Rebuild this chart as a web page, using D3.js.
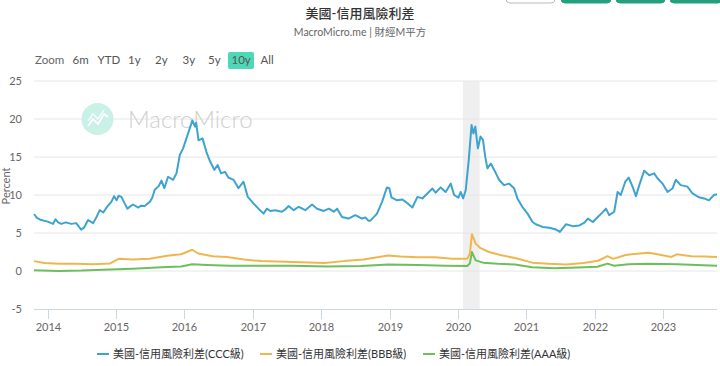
<!DOCTYPE html>
<html>
<head>
<meta charset="utf-8">
<script src="https://cdn.jsdelivr.net/npm/d3@7"></script>
<style>
  body { margin: 0; background: #fff; }
  svg { display: block; font-family: Lato, "Noto Sans CJK TC", sans-serif; }
</style>
</head>
<body>
<div id="chart"></div>
<script>
// chart data
const cccDates = ["2013-10-20","2013-11-05","2013-11-27","2014-01-01","2014-01-30","2014-02-12","2014-02-26","2014-03-15","2014-04-08","2014-05-07","2014-06-02","2014-06-29","2014-07-14","2014-08-05","2014-09-01","2014-09-17","2014-10-06","2014-10-25","2014-11-13","2014-12-07","2014-12-22","2015-01-04","2015-01-15","2015-01-30","2015-02-14","2015-03-03","2015-03-18","2015-04-02","2015-04-30","2015-05-15","2015-06-03","2015-07-01","2015-07-13","2015-07-27","2015-08-18","2015-09-01","2015-09-16","2015-10-06","2015-11-02","2015-11-20","2015-12-08","2015-12-25","2016-01-21","2016-02-13","2016-02-27","2016-03-04","2016-03-17","2016-04-07","2016-04-30","2016-05-18","2016-06-09","2016-06-27","2016-07-15","2016-08-05","2016-08-23","2016-09-20","2016-10-16","2016-11-12","2016-12-05","2017-01-04","2017-01-31","2017-02-27","2017-03-17","2017-04-04","2017-04-30","2017-06-05","2017-06-23","2017-07-11","2017-08-07","2017-09-03","2017-10-08","2017-11-13","2017-12-10","2018-01-15","2018-02-11","2018-03-09","2018-03-27","2018-04-22","2018-05-27","2018-07-02","2018-08-07","2018-08-25","2018-09-11","2018-09-20","2018-10-26","2018-11-22","2018-12-18","2018-12-31","2019-01-11","2019-02-10","2019-03-11","2019-03-28","2019-05-03","2019-05-30","2019-06-25","2019-07-22","2019-08-18","2019-09-04","2019-10-01","2019-10-28","2019-11-24","2019-12-12","2020-01-04","2020-01-16","2020-01-29","2020-02-12","2020-02-28","2020-03-14","2020-03-24","2020-04-03","2020-04-17","2020-05-01","2020-05-14","2020-05-26","2020-06-07","2020-06-25","2020-07-13","2020-08-08","2020-09-03","2020-09-30","2020-10-27","2020-11-14","2020-12-10","2021-01-07","2021-02-03","2021-02-20","2021-03-28","2021-05-03","2021-06-08","2021-06-29","2021-07-31","2021-09-06","2021-10-11","2021-11-07","2021-11-25","2021-12-22","2022-01-17","2022-02-09","2022-03-02","2022-03-19","2022-04-15","2022-05-03","2022-05-20","2022-06-13","2022-07-01","2022-07-22","2022-08-09","2022-08-27","2022-09-22","2022-10-19","2022-11-14","2022-12-02","2022-12-29","2023-01-25","2023-02-20","2023-03-10","2023-04-05","2023-05-11","2023-06-07","2023-07-12","2023-08-08","2023-09-03","2023-09-30","2023-10-16"];
const cccValues = [7.5,7.0,6.7,6.5,6.2,6.8,6.4,6.2,6.4,6.2,6.3,5.45,5.7,6.7,6.3,7.0,8.0,7.7,8.4,9.1,9.85,9.3,9.9,9.75,9.0,8.2,8.5,8.75,8.35,8.6,8.55,9.1,9.6,10.7,11.2,11.9,10.9,12.4,12.0,12.85,15.3,16.1,18.1,19.8,19.0,19.5,17.2,17.45,15.5,14.4,13.3,13.95,12.85,13.05,12.3,12.0,10.9,11.75,9.75,8.9,8.2,7.55,8.2,7.9,8.0,7.8,8.1,8.55,8.0,8.45,8.0,8.75,8.2,7.9,8.2,7.8,8.2,7.1,6.9,7.35,6.9,7.05,6.6,6.6,7.55,9.1,11.0,10.9,9.7,9.3,9.4,9.1,8.35,9.75,9.55,10.2,10.85,10.3,11.0,10.4,11.5,10.0,9.65,10.4,9.55,10.65,14.6,19.2,18.1,19.0,16.15,17.7,17.25,15.05,13.5,14.15,13.3,12.0,11.3,11.5,10.9,9.55,8.45,7.55,6.45,6.15,5.8,5.7,5.45,5.15,6.15,5.9,6.0,6.35,6.9,6.45,7.1,7.65,8.2,7.35,7.8,10.4,10.0,11.75,12.3,11.1,9.85,11.3,13.2,12.6,12.85,12.2,11.5,10.4,10.85,12.0,11.3,11.1,10.2,9.7,9.55,9.3,10.0,10.1];

const bbbDates = ["2013-10-20","2013-12-15","2014-03-01","2014-06-01","2014-09-01","2014-12-01","2015-01-15","2015-04-01","2015-07-01","2015-10-01","2015-12-15","2016-02-12","2016-03-15","2016-06-01","2016-08-15","2016-11-15","2017-02-15","2017-08-01","2018-01-20","2018-05-01","2018-08-15","2018-12-25","2019-03-01","2019-06-01","2019-09-01","2019-12-01","2020-02-20","2020-03-05","2020-03-16","2020-04-05","2020-05-01","2020-06-15","2020-08-15","2020-11-01","2021-02-01","2021-05-01","2021-08-01","2021-11-01","2022-01-20","2022-03-10","2022-04-10","2022-06-15","2022-07-15","2022-10-15","2022-12-01","2023-02-15","2023-03-15","2023-06-01","2023-08-15","2023-10-16"];
const bbbValues = [1.3,1.05,0.97,0.95,0.9,1.0,1.6,1.5,1.6,2.0,2.2,2.8,2.3,1.95,1.85,1.5,1.3,1.2,1.05,1.3,1.5,2.05,1.9,1.8,1.8,1.6,1.6,2.3,4.85,3.6,3.0,2.5,2.1,1.7,1.1,0.95,0.85,1.05,1.35,1.95,1.6,2.1,2.2,2.4,2.2,1.85,2.2,1.95,1.9,1.85];

const aaaDates = ["2013-10-20","2014-03-01","2014-07-01","2014-12-01","2015-04-01","2015-09-01","2015-12-15","2016-02-12","2016-05-01","2016-09-01","2017-02-01","2017-08-01","2018-02-01","2018-08-01","2018-12-25","2019-06-01","2019-11-01","2020-02-20","2020-03-05","2020-03-16","2020-04-05","2020-05-15","2020-08-01","2020-11-01","2021-02-01","2021-06-01","2021-10-01","2022-01-15","2022-03-10","2022-04-15","2022-07-01","2022-10-15","2023-03-15","2023-07-01","2023-10-16"];
const aaaValues = [0.1,0.0,0.05,0.2,0.3,0.5,0.6,0.9,0.8,0.7,0.7,0.7,0.6,0.65,0.85,0.8,0.7,0.65,1.0,2.5,1.4,1.1,0.95,0.85,0.5,0.35,0.45,0.55,0.97,0.7,0.88,0.97,0.88,0.8,0.7];

const seriesNames = ["美國-信用風險利差(CCC級)","美國-信用風險利差(BBB級)","美國-信用風險利差(AAA級)"];
const seriesColors = ["#3ea3cf","#f0b64e","#6cbf5a"];
const recession = ["2020-01-28","2020-04-26"];
const yTicks = [-5,0,5,10,15,20,25];
const xTickYears = [2014,2015,2016,2017,2018,2019,2020,2021,2022,2023];
const rangeButtons = ["6m","YTD","1y","2y","3y","5y","10y","All"];

const W = 720, H = 366;
const plot = {left: 34, right: 717, top: 81, bottom: 309};

const parse = d3.timeParse("%Y-%m-%d");
const series = [
  cccDates.map((d,i)=>({date: parse(d), v: cccValues[i]})),
  bbbDates.map((d,i)=>({date: parse(d), v: bbbValues[i]})),
  aaaDates.map((d,i)=>({date: parse(d), v: aaaValues[i]}))
];

let svg = d3.select("#chart").append("svg")
  .attr("width", W).attr("height", H);

svg.append("rect").attr("width","100%").attr("height","100%").attr("fill","#fff");

//top right buttons (cut off)
const topBtns = [{x:506,w:49,fill:"#fff",stroke:"#bbb"},{x:561,w:50,fill:"#24a07f",stroke:"#24a07f"},{x:616,w:49,fill:"#24a07f",stroke:"#24a07f"},{x:670,w:52,fill:"#24a07f",stroke:"#24a07f"}];
svg.selectAll(".tb").data(topBtns).enter().append("rect")
  .attr("x",d=>d.x).attr("y",-20).attr("width",d=>d.w).attr("height",23)
  .attr("rx",4).attr("fill",d=>d.fill).attr("stroke",d=>d.stroke);

//title
svg.append("text").attr("x",W/2).attr("y",18).attr("text-anchor","middle")
  .style("font-size","13px").style("font-weight","500").attr("fill","#333")
  .text("美國-信用風險利差");
svg.append("text").attr("x",W/2).attr("y",36).attr("text-anchor","middle")
  .style("font-size","10.5px").attr("fill","#666")
  .text("MacroMicro.me | 財經M平方");

//range selector
svg.append("text").attr("x",35).attr("y",64).style("font-size","11.5px").attr("fill","#666").text("Zoom");
const btnX = [72.5,97.5,128,155,182.5,208,231.5,260.5];
svg.append("rect").attr("x",228).attr("y",52).attr("width",26).attr("height",17).attr("rx",2).attr("fill","#4fd8b8");
svg.selectAll(".rb").data(rangeButtons).enter().append("text")
  .attr("x",(d,i)=>btnX[i]).attr("y",64)
  .style("font-size","11.5px").attr("fill","#555")
  .text(d=>d);

//scales
const x = d3.scaleTime()
  .domain([parse("2013-10-20"), parse("2023-10-16")])
  .range([plot.left, plot.right]);
const y = d3.scaleLinear().domain([-5,25]).range([plot.bottom, plot.top]);

//recession band
svg.append("rect")
  .attr("x", x(parse(recession[0])))
  .attr("y", plot.top)
  .attr("width", x(parse(recession[1])) - x(parse(recession[0])))
  .attr("height", plot.bottom - plot.top)
  .attr("fill","#efefef");

//grid + y labels
svg.append("g").selectAll("line").data(yTicks.filter(t=>t>-5)).enter().append("line")
  .attr("x1",plot.left).attr("x2",plot.right)
  .attr("y1",d=>y(d)).attr("y2",d=>y(d))
  .attr("stroke","#e6e6e6");
svg.append("g").selectAll("text").data(yTicks).enter().append("text")
  .attr("x",22).attr("y",d=>y(d)+4).attr("text-anchor","end")
  .style("font-size","11px").attr("fill","#666")
  .text(d=>d);

svg.append("text")
  .attr("transform",`translate(10,186) rotate(-90)`)
  .attr("text-anchor","middle")
  .style("font-size","11px").attr("fill","#666")
  .text("Percent");

//watermark
let wm = svg.append("g");
wm.append("circle").attr("cx",97.5).attr("cy",119).attr("r",16).attr("fill","#c9f1e6");
wm.append("polyline").attr("points","88,126 93,119 98,124 104,114 108,117")
  .attr("fill","none").attr("stroke","#fff").attr("stroke-width",1.8);
wm.append("polyline").attr("points","88,121 93,114 98,119 104,110")
  .attr("fill","none").attr("stroke","#fff").attr("stroke-width",1.2);
wm.append("text").attr("x",128).attr("y",128)
  .style("font-size","24px").style("font-weight","300").attr("fill","#cfcfcf")
  .text("MacroMicro");

//x axis
svg.append("line").attr("x1",plot.left).attr("x2",plot.right)
  .attr("y1",plot.bottom+0.5).attr("y2",plot.bottom+0.5).attr("stroke","#ccd6eb");
const xt = svg.append("g").selectAll("g").data(xTickYears).enter().append("g")
  .attr("transform",d=>`translate(${Math.round(x(new Date(d,0,1)))+0.5},0)`);
xt.append("line").attr("y1",plot.bottom).attr("y2",plot.bottom+10).attr("stroke","#ccd6eb");
xt.append("text").attr("y",plot.bottom+22).attr("text-anchor","middle")
  .style("font-size","11px").attr("fill","#666").text(d=>d);

//lines
const line = d3.line().x(d=>x(d.date)).y(d=>y(d.v)).curve(d3.curveLinear);
svg.append("g").selectAll("path").data(series.slice().reverse()).enter().append("path")
  .attr("d",line).attr("fill","none")
  .attr("stroke",(d,i)=>seriesColors[2-i])
  .attr("stroke-width",2).attr("stroke-linejoin","round");

//legend
const legX = [97,260,423];
let legend = svg.append("g").selectAll("g").data(seriesNames).enter().append("g")
  .attr("transform",(d,i)=>`translate(${legX[i]},354)`);
legend.append("line").attr("x1",0).attr("x2",12).attr("stroke",(d,i)=>seriesColors[i]).attr("stroke-width",2);
legend.append("text").attr("x",16).attr("y",4)
  .style("font-size","11px").attr("fill","#333").text(d=>d);
</script>
</body>
</html>
